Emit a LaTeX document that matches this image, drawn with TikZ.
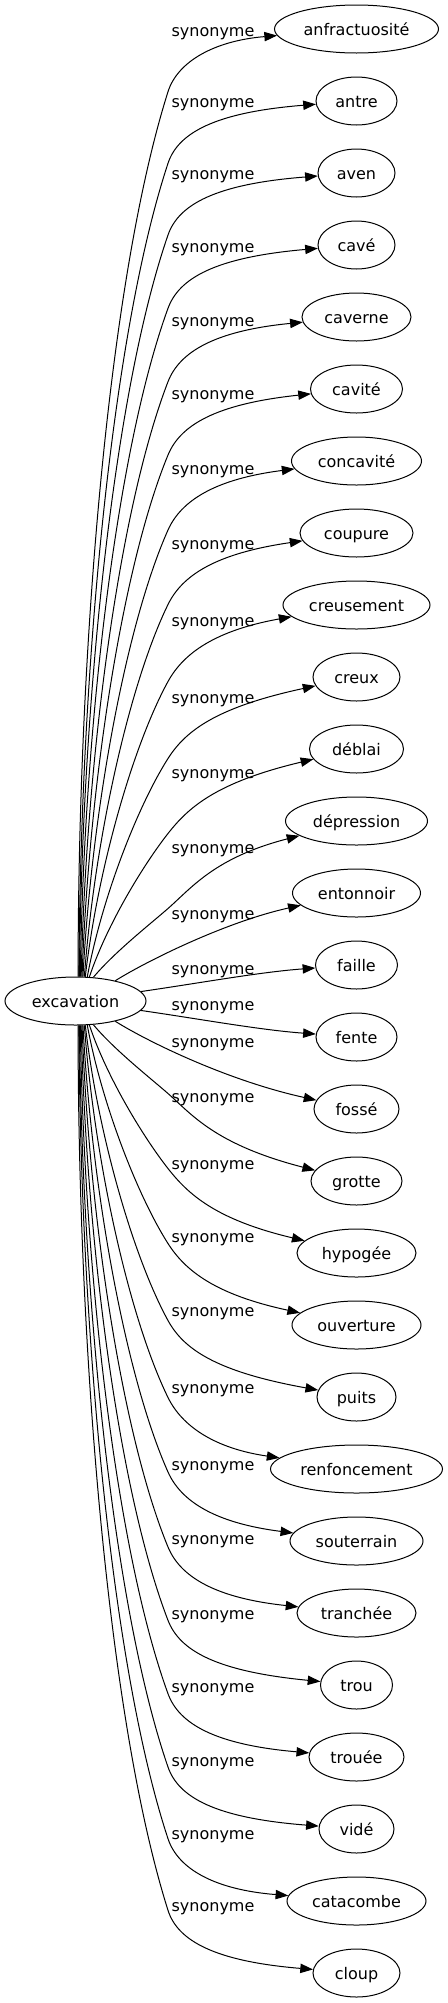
\documentclass[tikz,border=0pt]{standalone}
\usepackage{fontspec}
\setmainfont{DejaVu Sans}
\usetikzlibrary{arrows.meta,shapes.geometric}
\begin{document}
\begin{tikzpicture}[x=0.75pt,y=-0.75pt,
  tn/.style={draw, ellipse, inner sep=0pt, minimum height=36pt, line width=0.75pt,
    font=\fontsize{12}{14}\selectfont, text height=9pt, text depth=0pt},
  lbl/.style={font=\fontsize{12}{14}\selectfont, anchor=base, inner sep=0pt},
  edge/.style={draw, line width=0.75pt, -{Triangle[length=9.5pt,width=7pt]}}]
\useasboundingbox (0,0) rectangle (447,2003);
% source
\node[tn, minimum width=105.75pt] (exc) at (75.5,1001) {excavation};
% targets
\node[tn, minimum width=123pt]    (n0)  at (356.5,29)   {anfractuosité};
\node[tn, minimum width=60.75pt]  (n1)  at (356.5,101)  {antre};
\node[tn, minimum width=57.75pt]  (n2)  at (356.5,173)  {aven};
\node[tn, minimum width=57.75pt]  (n3)  at (356.5,245)  {cavé};
\node[tn, minimum width=81.75pt]  (n4)  at (356.5,317)  {caverne};
\node[tn, minimum width=69pt]     (n5)  at (356.5,389)  {cavité};
\node[tn, minimum width=97.5pt]   (n6)  at (356.5,461)  {concavité};
\node[tn, minimum width=84.75pt]  (n7)  at (356.5,533)  {coupure};
\node[tn, minimum width=110.25pt] (n8)  at (356.5,605)  {creusement};
\node[tn, minimum width=65.25pt]  (n9)  at (356.5,677)  {creux};
\node[tn, minimum width=70.5pt]   (n10) at (356.5,749)  {déblai};
\node[tn, minimum width=106.5pt]  (n11) at (356.5,821)  {dépression};
\node[tn, minimum width=96pt]     (n12) at (356.5,893)  {entonnoir};
\node[tn, minimum width=61.5pt]   (n13) at (356.5,965)  {faille};
\node[tn, minimum width=60.75pt]  (n14) at (356.5,1037) {fente};
\node[tn, minimum width=63.75pt]  (n15) at (356.5,1109) {fossé};
\node[tn, minimum width=68.25pt]  (n16) at (356.5,1181) {grotte};
\node[tn, minimum width=89.25pt]  (n17) at (356.5,1253) {hypogée};
\node[tn, minimum width=96.75pt]  (n18) at (356.5,1325) {ouverture};
\node[tn, minimum width=59.25pt]  (n19) at (356.5,1397) {puits};
\node[tn, minimum width=129pt]    (n20) at (356.5,1469) {renfoncement};
\node[tn, minimum width=99.75pt]  (n21) at (356.5,1541) {souterrain};
\node[tn, minimum width=89.25pt]  (n22) at (356.5,1613) {tranchée};
\node[tn, minimum width=54pt]     (n23) at (356.5,1685) {trou};
\node[tn, minimum width=71.25pt]  (n24) at (356.5,1757) {trouée};
\node[tn, minimum width=56.25pt]  (n25) at (356.5,1829) {vidé};
\node[tn, minimum width=104.25pt] (n26) at (356.5,1901) {catacombe};
\node[tn, minimum width=65.25pt]  (n27) at (356.5,1973) {cloup};
% edge labels
\foreach \k/\ly in {0/31.7,1/103.3,2/175,3/248.3,4/321.7,5/395,6/470,7/544.5,
  8/621.5,9/698.5,10/773.5,11/848.5,12/915,13/970,14/1006,15/1043.3,16/1098,
  17/1164.5,18/1238,19/1312,20/1389,21/1466,22/1540,23/1614.5,24/1688.3,
  25/1762,26/1835,27/1907.3}{
  \node[lbl] (l\k) at (213,\ly+4.5) {synonyme};
}
% long edges, upper half
\foreach \tg/\L/\sx in {n0/31.7/78,n1/103.3/79,n2/175/79.5,n3/248.3/80,
  n4/321.7/81,n5/395/82,n6/470/83,n7/544.5/84,n8/621.5/85,n9/698.5/87,
  n10/773.5/89,n11/848.5/93}{
  \pgfmathsetmacro\eKy{\L+60}
  \pgfmathsetmacro\eD{977-\eKy}
  \pgfmathsetmacro\eR{sqrt(\eD/887)}
  \pgfmathsetmacro\eW{60*\eR}
  \pgfmathsetmacro\eH{0.214*\eD}
  \pgfmathsetmacro\eA{30*(1-\eR)}
  \pgfmathsetmacro\eLen{veclen(\eW,\eH)}
  \pgfmathsetmacro\eDx{\sx-75.5}
  \pgfmathsetmacro\eDy{24*sqrt(1-(\eDx/70.5)^2)}
  \pgfmathtruncatemacro\eAng{round(atan2(\eDy,\eDx))}
  \draw[edge] (exc.\eAng) .. controls (\sx+\eA,977-0.367*\eD) and (168-\eW,\eKy+\eH)
    .. (168,\eKy) .. controls (168+32*\eW/\eLen,\eKy-32*\eH/\eLen) and (215,\L+9) .. (\tg);
}
% long edges, lower half (mirror images)
\foreach \tg/\L/\sx in {n27/31.7/78,n26/103.3/79,n25/175/79.5,n24/248.3/80,
  n23/321.7/81,n22/395/82,n21/470/83,n20/544.5/84,n19/621.5/85,n18/698.5/87,
  n17/773.5/89,n16/848.5/93}{
  \pgfmathsetmacro\eKy{1942-\L}
  \pgfmathsetmacro\eD{917-\L}
  \pgfmathsetmacro\eR{sqrt(\eD/887)}
  \pgfmathsetmacro\eW{60*\eR}
  \pgfmathsetmacro\eH{0.214*\eD}
  \pgfmathsetmacro\eA{30*(1-\eR)}
  \pgfmathsetmacro\eLen{veclen(\eW,\eH)}
  \pgfmathsetmacro\eDx{\sx-75.5}
  \pgfmathsetmacro\eDy{24*sqrt(1-(\eDx/70.5)^2)}
  \pgfmathtruncatemacro\eAng{round(atan2(\eDy,\eDx))}
  \draw[edge] (exc.-\eAng) .. controls (\sx+\eA,1025+0.367*\eD) and (168-\eW,\eKy-\eH)
    .. (168,\eKy) .. controls (168+32*\eW/\eLen,\eKy+32*\eH/\eLen) and (215,1993-\L) .. (\tg);
}
% short edges near the source
\draw[edge] (exc.27) .. controls (145,962) and (225,922) .. (n12);
\draw[edge] (exc) .. controls (200,983) and (260,972) .. (n13);
\draw[edge] (exc) .. controls (200,1019) and (260,1030) .. (n14);
\draw[edge] (exc.-27) .. controls (145,1040) and (225,1080) .. (n15);
\end{tikzpicture}
\end{document}
